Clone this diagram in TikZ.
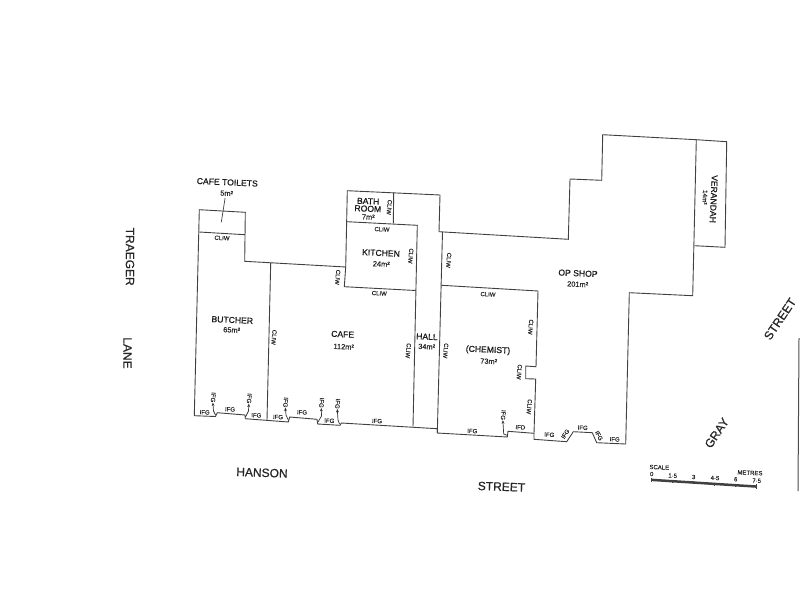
\documentclass[tikz,border=0pt]{standalone}
\usepackage{fontspec}
\setmainfont{Liberation Sans}
\newfontfamily\plotfont[FakeBold=0.35]{Liberation Sans}
\newfontfamily\plotfontheavy[FakeBold=0.7]{Liberation Sans}
\usetikzlibrary{arrows.meta}
\tikzset{
  wall/.style = {draw=black!75, line width=0.9pt, line join=miter},
  roomname/.style = {text=black!90, font=\plotfontheavy\fontsize{8.6}{9}\selectfont, inner sep=0pt, rotate=-2.5},
  roomarea/.style = {text=black!85, font=\plotfont\fontsize{7.4}{8}\selectfont, inner sep=0pt, rotate=-2.5},
  tagtext/.style = {text=black!85, font=\plotfont\fontsize{6}{6.5}\selectfont, inner sep=0pt, rotate=-2.5},
  tagside/.style = {tagtext, rotate=-92.5},
  streetname/.style = {text=black!85, font=\plotfontheavy\fontsize{12}{13}\selectfont, inner sep=0pt},
  pointer/.style = {draw=black!80, line width=0.7pt, -{Stealth[length=3.5pt,width=2.8pt]}}
}
\begin{document}
\begin{tikzpicture}[x=1pt, y=-1pt]
  \useasboundingbox (0,0) rectangle (800,600);

  % outer walls
  \draw[wall] (199.3,209.7) -- (245.3,212.3) -- (244.7,261.3) -- (345.7,267) -- (347.3,190.7)
    -- (440,195) -- (439,231.7) -- (568.3,239.3) -- (570,179) -- (601.7,180.3) -- (602.7,134.7)
    -- (696.3,139.7) -- (692.7,295.7) -- (629.3,292.7) -- (625.7,444) -- (596.7,442.7)
    -- (592.3,432.7) -- (573.3,431.7) -- (566.7,441.7) -- (534,439.3) -- (534,433.3)
    -- (508,431.3) -- (507.3,437) -- (437.3,433) -- (437.3,428.7) -- (341.3,423) -- (340,425.3)
    -- (317.7,424) -- (317,419.3) -- (289.7,417) -- (288.3,422) -- (245.3,418.7) -- (245,415)
    -- (217.3,412.7) -- (215.5,416.5) -- (194.3,415.7) -- cycle;

  % inner walls
  \draw[wall] (199.2,232) -- (245,234.7);
  \draw[wall] (270.7,263) -- (267,420);
  \draw[wall] (347,221.7) -- (417.3,225.3) -- (413,426.5);
  \draw[wall] (345.7,267) -- (344.3,286.7) -- (415.7,290.5);
  \draw[wall] (393.7,192.7) -- (393.3,223.3);
  \draw[wall] (442.5,232) -- (437.3,433);
  \draw[wall] (441.7,285.3) -- (538,291) -- (536,366.7) -- (525.7,366) -- (525.7,378.7)
    -- (535.7,379) -- (534,433.3);
  \draw[wall] (696.3,139.7) -- (726.7,141.7) -- (725,247.3) -- (694.7,245.7);

  % room names
  \node[roomname] (toiletsname) at (227.3,182.3) {CAFE TOILETS};
  \node[roomarea] (toiletsarea) at (226.7,193.3) {5m²};
  \coordinate (toiletsend) at (221.3,222.3);
  \draw[wall, line width=0.7pt] (toiletsarea.south) ++(-1.5,2) -- (toiletsend);
  \node[roomname] (bathname) at (368,205) {\shortstack[c]{BATH\\[-1.5pt]ROOM}};
  \node[roomarea] (batharea) at (368.3,217) {7m²};
  \node[roomname] (kitchenname) at (381,253) {KITCHEN};
  \node[roomarea] (kitchenarea) at (381.3,264) {24m²};
  \node[roomname] (butchername) at (232.3,320) {BUTCHER};
  \node[roomarea] (butcherarea) at (231.7,330) {65m²};
  \node[roomname] (cafename) at (342.7,334.3) {CAFE};
  \node[roomarea] (cafearea) at (343.7,346.7) {112m²};
  \node[roomname] (hallname) at (427,336.7) {HALL};
  \node[roomarea] (hallarea) at (426.7,346.7) {34m²};
  \node[roomname] (chemistname) at (488,350.3) {(CHEMIST)};
  \node[roomarea] (chemistarea) at (488.7,361.3) {73m²};
  \node[roomname] (opshopname) at (578,273.3) {OP SHOP};
  \node[roomarea] (opshoparea) at (577.7,284.3) {201m²};
  \node[roomname, rotate=-90] (verandahname) at (713.7,199) {VERANDAH};
  \node[roomarea, rotate=-90, font=\plotfont\fontsize{6.4}{7}\selectfont] (verandaharea) at (705,197.3) {14m²};

  % CLIW tags
  \node[tagtext] (cliwtoilets) at (222,238) {CLIW};
  \node[tagside] (cliwbath) at (389.3,207.3) {CLIW};
  \node[tagtext] (cliwkitchentop) at (382,229.3) {CLIW};
  \node[tagside] (cliwkitchenright) at (410.8,256) {CLIW};
  \node[tagside] (cliwcafetop) at (337.7,277.3) {CLIW};
  \node[tagtext] (cliwkitchenbottom) at (379.3,293.3) {CLIW};
  \node[tagside] (cliwbutcher) at (274,337.3) {CLIW};
  \node[tagside] (cliwcafe) at (408.3,350.7) {CLIW};
  \node[tagside] (cliwhall) at (448.7,260.3) {CLIW};
  \node[tagtext] (cliwchemisttop) at (488,294.3) {CLIW};
  \node[tagside] (cliwchemistleft) at (445.7,350.7) {CLIW};
  \node[tagside] (cliwchemistA) at (530.7,327) {CLIW};
  \node[tagside] (cliwchemistB) at (519.3,372) {CLIW};
  \node[tagside] (cliwchemistC) at (529.3,406.7) {CLIW};

  % IFG tags along the shop fronts
  \node[tagtext] (ifgA) at (204.7,412.3) {IFG};
  \node[tagtext] (ifgB) at (230,409.3) {IFG};
  \node[tagtext] (ifgC) at (256.3,415.3) {IFG};
  \node[tagtext] (ifgD) at (278,417) {IFG};
  \node[tagtext] (ifgE) at (302,412.3) {IFG};
  \node[tagtext] (ifgF) at (329.3,420.7) {IFG};
  \node[tagtext] (ifgG) at (377,421) {IFG};
  \node[tagtext] (ifgH) at (472.3,431) {IFG};
  \node[tagtext] (ifdA) at (520.3,427.3) {IFD};
  \node[tagtext] (ifgI) at (549.3,434.7) {IFG};
  \node[tagtext, rotate=60] (ifgJ) at (565.3,434) {IFG};
  \node[tagtext] (ifgK) at (582.7,427.7) {IFG};
  \node[tagtext, rotate=-60] (ifgL) at (599,435.7) {IFG};
  \node[tagtext] (ifgM) at (614.7,439.3) {IFG};

  % IFG tags with a pointer
  \node[tagside] (ifgup1) at (213.3,397.3) {IFG};
  \node[tagside] (ifgup2) at (249.3,398.3) {IFG};
  \node[tagside] (ifgup3) at (285.7,402.3) {IFG};
  \node[tagside] (ifgup4) at (321.7,402.7) {IFG};
  \node[tagside] (ifgup5) at (337.7,403.7) {IFG};
  \node[tagside] (ifgup6) at (503.3,415) {IFG};
  \coordinate (notch1) at (215.5,415);
  \coordinate (notch2) at (245.5,417);
  \coordinate (notch3) at (288.5,420.5);
  \coordinate (notch4) at (318,422);
  \coordinate (notch5) at (339.5,424);
  \coordinate (notch6) at (507.5,435.5);
  \draw[pointer] (notch1) -- (213.5,411) -- (ifgup1.east);
  \draw[pointer] (notch2) -- (248.5,411) -- (ifgup2.east);
  \draw[pointer] (notch3) -- (286,415) -- (ifgup3.east);
  \draw[pointer] (notch4) -- (321.5,416) -- (ifgup4.east);
  \draw[pointer] (notch5) -- (338,420) -- (ifgup5.east);
  \draw[pointer] (notch6) -- (503.7,434) -- (ifgup6.east);

  % street names
  \node[streetname, rotate=-90] (traeger) at (130,256.7) {TRAEGER};
  \node[streetname, rotate=-90] (lane) at (127.5,353) {LANE};
  \node[streetname, rotate=-2] (hanson) at (262,472.7) {HANSON};
  \node[streetname, rotate=-2] (street) at (501.5,486.7) {STREET};
  \node[streetname, rotate=56] (gray) at (716.7,433) {GRAY};
  \node[streetname, rotate=56] (grayst) at (780,319) {STREET};

  % scale bar
  \fill[black!75] (651.3,478.6) -- (756.3,485.3) -- (756.3,487.8) -- (651.3,481.1) -- cycle;
  \draw[wall, line width=0.5pt] (651.3,477.5) -- (651.3,481.5);
  \draw[wall, line width=0.5pt] (672.3,480) -- (672.3,483);
  \draw[wall, line width=0.5pt] (693.3,481.3) -- (693.3,484.3);
  \draw[wall, line width=0.5pt] (714.3,482.6) -- (714.3,485.6);
  \draw[wall, line width=0.5pt] (735.3,484) -- (735.3,487);
  \draw[wall, line width=0.5pt] (756.3,484) -- (756.3,489);
  \node[tagtext] (scalename) at (659.3,467.3) {SCALE};
  \node[tagtext] (metres) at (750,472.8) {METRES};
  \node[tagtext] (scaleA) at (651.7,474) {0};
  \node[tagtext] (scaleB) at (672.7,475.7) {1·5};
  \node[tagtext] (scaleC) at (693.7,477) {3};
  \node[tagtext] (scaleD) at (715,478) {4·5};
  \node[tagtext] (scaleE) at (735.7,479.3) {6};
  \node[tagtext] (scaleF) at (756.7,480.7) {7·5};

  % dark edge of the sheet
  \draw[black!70, line width=1pt] (799,338) -- (798,491);
\end{tikzpicture}
\end{document}
